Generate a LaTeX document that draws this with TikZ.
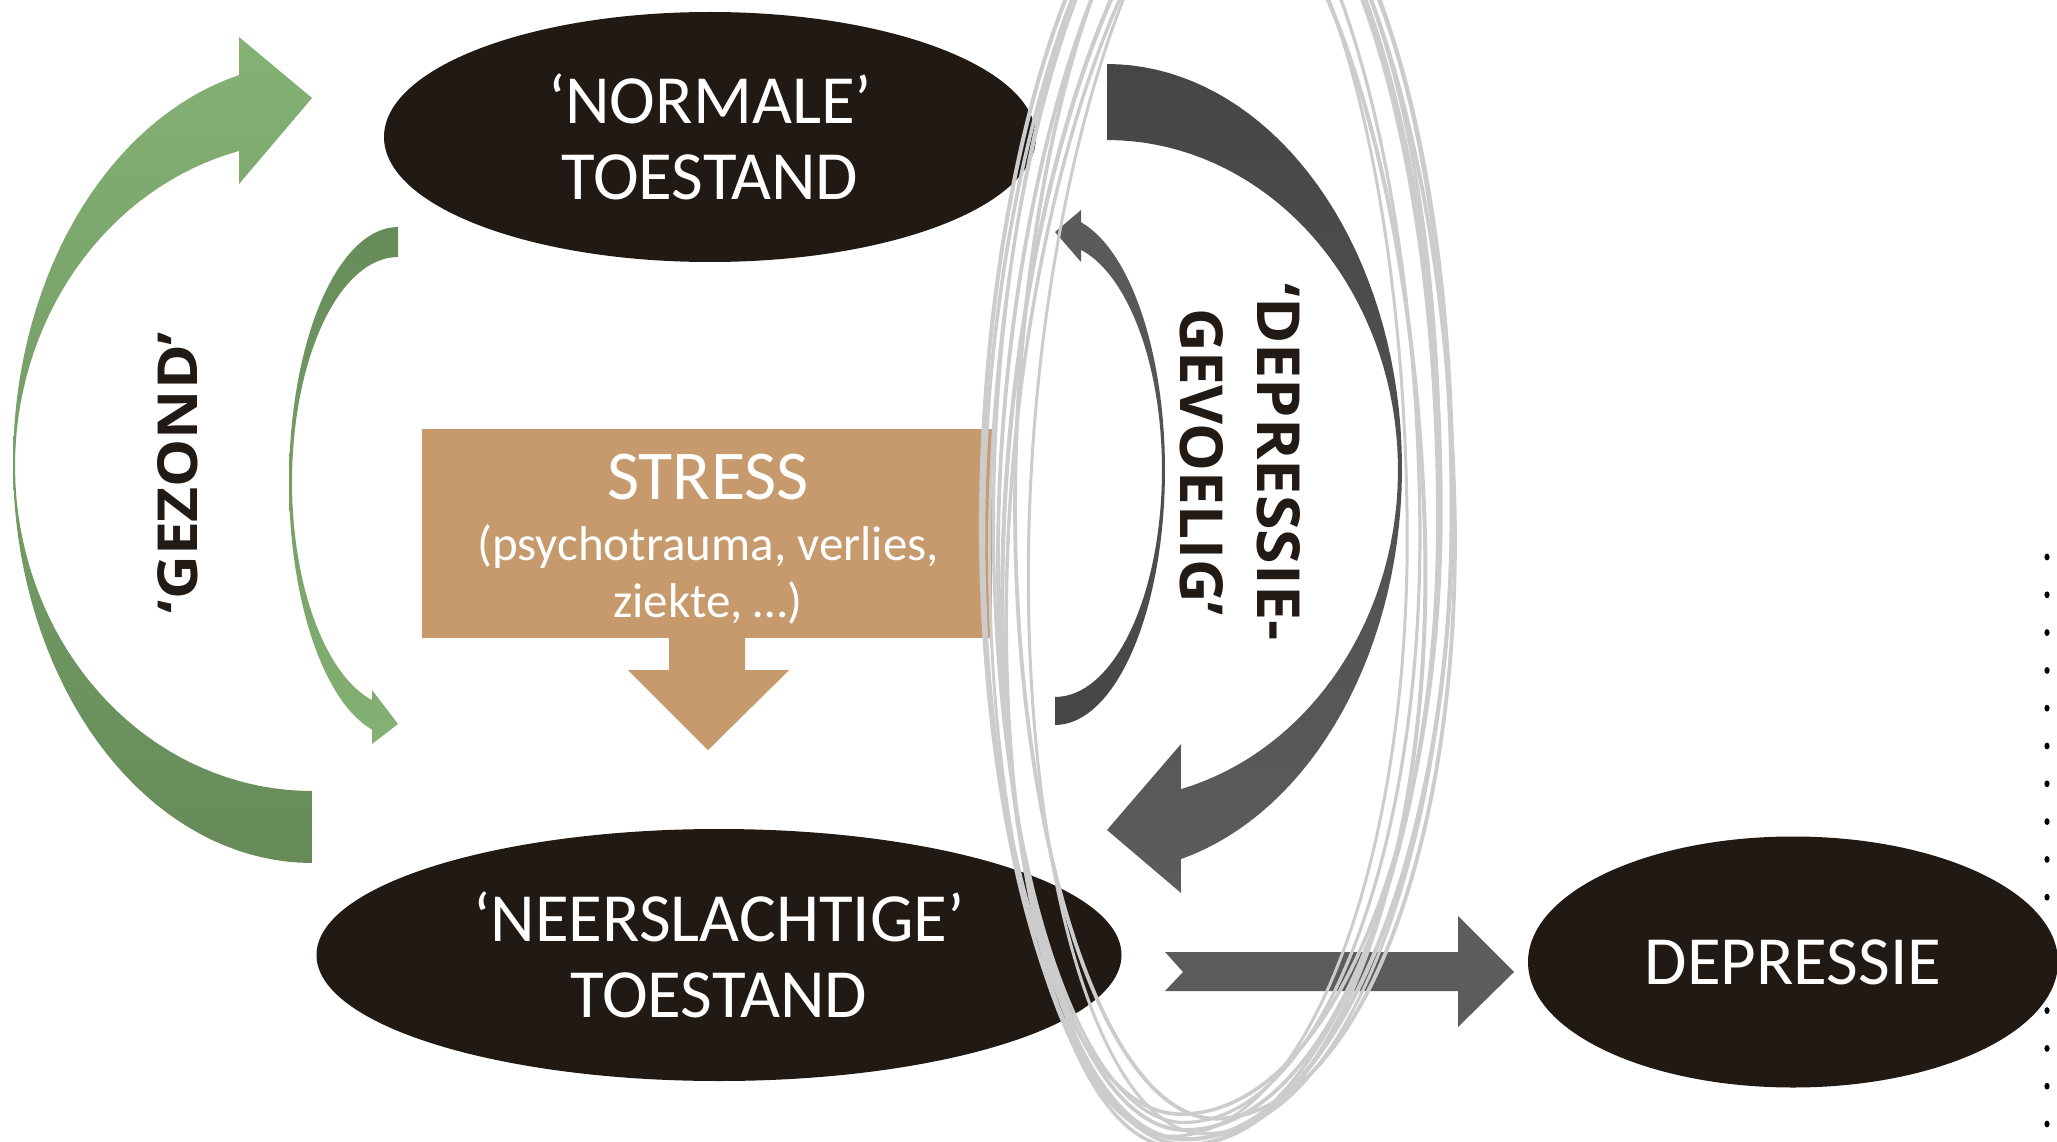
\documentclass[tikz,border=0pt]{standalone}
\usepackage{fontspec}
\usepackage{graphicx}
\setmainfont{Carlito}
\newfontfamily\lblfont{Open Sans}
\usetikzlibrary{shapes.geometric}
\definecolor{ellfill}{RGB}{33,26,20}
\definecolor{stresscol}{RGB}{198,154,108}
\definecolor{glight}{RGB}{132,177,116}
\definecolor{gdark}{RGB}{102,139,89}
\definecolor{gdone}{RGB}{70,70,70}
\definecolor{gdtwo}{RGB}{92,92,92}
\definecolor{loopgray}{RGB}{204,204,204}
\definecolor{txtdark}{RGB}{34,26,20}
\begin{document}
\begin{tikzpicture}[x=1pt,y=-1pt,
  stateell/.style={ellipse, fill=ellfill, text=white, inner sep=0pt, align=center,
    font=\fontsize{69}{76}\selectfont},
  lbl/.style={font=\lblfont\bfseries\fontsize{60}{77}\selectfont, text=txtdark, inner sep=0pt},
  wtext/.style={text=white, inner sep=0pt, align=center},
  loopline/.style={draw=loopgray, line width=3.5pt}
]
\useasboundingbox (0,0) rectangle (2057,1142);
\clip (0,0) rectangle (2057,1142);
\fill[white] (0,0) rectangle (2057,1142);

% dotted column on the right edge
\foreach \k in {0,...,15}
  \fill[black] (2047,{557+37.8*\k}) ellipse [x radius=2.6pt, y radius=3.4pt];

% state ellipses
\node[stateell, minimum width=652pt, minimum height=250pt] (normale) at (710,137) {‘NORMALE’\\TOESTAND};
\node[stateell, minimum width=805pt, minimum height=252pt] (neer) at (719,955) {‘NEERSLACHTIGE’\\TOESTAND};
\node[stateell, minimum width=530pt, minimum height=251pt] (dep) at (1793,962) {DEPRESSIE};

% stress box with arrow
\node[fill=stresscol, minimum width=570pt, minimum height=209pt, inner sep=0pt] (stressbox) at (707,533.5) {};
\fill[stresscol] (stressbox.south) ++(-38,-1) -- ++(0,33) -- ++(-41,0) -- ++(80,80) -- ++(81,-80) -- ++(-44,0) -- ++(0,-33) -- cycle;
\node[wtext, font=\fontsize{70}{76}\selectfont] (stresst) at (708,477) {STRESS};
\node[wtext, font=\fontsize{49}{57}\selectfont] (stresss) at (708,574) {(psychotrauma, verlies,\\ziekte, …)};

% outer green arrow ('gezond')
\shade[top color=glight, bottom color=gdark]
  (312,863) -- plot[domain=90:255.9, samples=70, variable=\t] ({312+299*cos(\t)},{463+400*sin(\t)})
  -- (239,37) -- (312,98) -- (239,184)
  -- plot[domain=255.8:90, samples=70, variable=\t] ({312+297*cos(\t)},{466+325*sin(\t)}) -- cycle;

% inner green arrow
\shade[top color=gdark, bottom color=glight]
  (398,227) -- plot[domain=270:103.8, samples=60, variable=\t] ({398+109*cos(\t)},{482+255*sin(\t)})
  -- (372,744) -- (398,724) -- (372,690)
  -- plot[domain=104.2:270, samples=60, variable=\t] ({398+106*cos(\t)},{482+225*sin(\t)}) -- cycle;

% big dark arrow
\shade[top color=gdone, bottom color=gdtwo]
  (1107,64) -- plot[domain=-90:75.5, samples=70, variable=\t] ({1107+295*cos(\t)},{468+404*sin(\t)})
  -- (1181,893) -- (1107,830) -- (1181,744)
  -- plot[domain=75.3:-90, samples=70, variable=\t] ({1107+291*cos(\t)},{470+330*sin(\t)}) -- cycle;

% small dark arrow
\shade[top color=gdtwo, bottom color=gdone]
  (1055,725) -- plot[domain=90:-76.3, samples=60, variable=\t] ({1055+110*cos(\t)},{470+255*sin(\t)})
  -- (1081,210) -- (1055,232) -- (1081,262)
  -- plot[domain=-75.9:90, samples=60, variable=\t] ({1055+107*cos(\t)},{470+227*sin(\t)}) -- cycle;

% horizontal arrow to depressie
\fill[gdtwo] (1165,952) -- (1458,952) -- (1458,916) -- (1514,972) -- (1458,1027) -- (1458,991) -- (1165,991) -- (1183,972) -- cycle;

% rotated labels
\node[lbl, rotate=90] (gezond) at (177.5,472.5) {\resizebox{281pt}{40pt}{‘GEZOND’}};
\node[lbl, rotate=-90, align=center] (dgev) at (1240,462)
  {\resizebox{357pt}{43pt}{‘DEPRESSIE-}\\\resizebox{308pt}{43pt}{GEVOELIG’}};

% sketchy grey loops
\foreach \dx/\dy/\r/\s/\w in {0/0/0/1/3.8, -12/-8/1.0/0.97/3.2, 10/10/-1.0/1.02/4.2, -20/6/0.5/0.95/3.0,
    16/-12/1.5/1.0/3.8, 6/18/-1.5/0.98/3.4, -6/-16/0.3/1.04/3.6, 22/4/-0.4/0.96/3.0, -16/14/1.8/1.01/4} {
  \draw[loopline, line width=\w pt, shift={(\dx,\dy)}, rotate around={\r:(1218,500)},
        shift={(1218,500)}, xscale=\s, shift={(-1218,-500)}]
    (1225,-160) .. controls (1343,-160) and (1438,145) .. (1438,520)
    .. controls (1438,850) and (1330,1130) .. (1185,1130)
    .. controls (1080,1130) and (998,880) .. (998,560)
    .. controls (998,200) and (1110,-160) .. (1225,-160) -- cycle;
}
\end{tikzpicture}
\end{document}
